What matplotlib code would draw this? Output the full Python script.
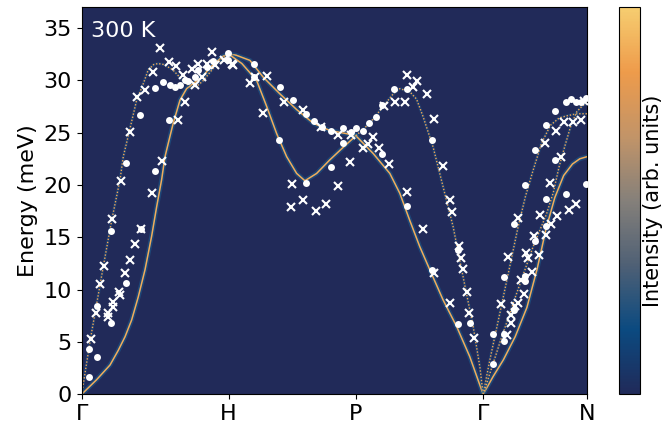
import matplotlib
matplotlib.use("Agg")
import matplotlib.pyplot as plt
import numpy as np
from matplotlib.colors import LinearSegmentedColormap

# high-symmetry path of the bcc zone, distances in units of 2*pi/a
Q_TICKS = [0.0, 1.0, 1.866, 2.732, 3.439]
Q_LABELS = ["Γ", "H", "P", "Γ", "N"]
E_MAX = 37.0

# calculated branches (q, energy in meV)
GH_TA_Q = [0, 0.102, 0.193, 0.249, 0.295, 0.340, 0.385, 0.431, 0.476, 0.510, 0.544,
           0.567, 0.600, 0.623, 0.669, 0.714, 0.760, 0.820, 0.873, 0.920, 0.963, 1.0]
GH_TA_E = [0, 1.4, 2.8, 4.2, 5.5, 7.1, 9.3, 11.9, 15.1, 17.9, 20.5,
           22.7, 24.6, 25.9, 28.1, 29.2, 29.7, 30.3, 31.2, 31.8, 32.3, 32.5]
GH_LA_Q = [0, 0.061, 0.147, 0.204, 0.261, 0.283, 0.324, 0.374, 0.415, 0.453, 0.490,
           0.520, 0.560, 0.620, 0.687, 0.744, 0.780, 0.823, 0.870, 0.914, 0.960, 1.0]
GH_LA_E = [0, 5.4, 12.2, 16.6, 20.5, 22.7, 25.1, 28.1, 29.5, 31.0, 31.5,
           31.6, 31.5, 31.0, 30.0, 29.3, 29.4, 29.9, 30.7, 31.5, 32.1, 32.5]
HP_UP_Q = [1.0, 1.05, 1.145, 1.235, 1.349, 1.463, 1.576, 1.689, 1.803, 1.866]
HP_UP_E = [32.5, 32.4, 31.9, 30.3, 28.7, 27.2, 25.9, 25.2, 24.9, 24.7]
HP_DIP_Q = [1.0, 1.09, 1.190, 1.259, 1.327, 1.395, 1.463, 1.519, 1.599, 1.689, 1.780, 1.866]
HP_DIP_E = [32.5, 31.6, 30.0, 27.5, 24.9, 22.7, 21.1, 20.4, 21.1, 22.4, 23.6, 24.7]
PG_A_Q = [1.866, 1.984, 2.097, 2.165, 2.233, 2.301, 2.369, 2.460, 2.551, 2.641, 2.732]
PG_A_E = [24.7, 23.0, 21.1, 19.2, 16.6, 14.1, 11.9, 9.0, 6.5, 3.6, 0]
PG_B_Q = [1.866, 1.961, 2.052, 2.120, 2.165, 2.233, 2.279, 2.324, 2.392, 2.460, 2.528,
          2.573, 2.619, 2.664, 2.710, 2.732]
PG_B_E = [24.7, 25.9, 27.5, 28.7, 29.2, 28.9, 28.2, 26.5, 23.6, 19.8, 16.0,
          12.8, 9.6, 6.5, 2.6, 0]
GN_1_Q = [2.732, 2.778, 2.845, 2.913, 2.970, 3.020, 3.070, 3.130, 3.190, 3.250, 3.300, 3.370, 3.439]
GN_1_E = [0, 3.3, 7.7, 12.2, 16.0, 18.9, 21.3, 24.0, 25.7, 26.4, 26.6, 26.8, 26.8]
GN_2_Q = [2.732, 2.845, 2.959, 3.072, 3.163, 3.210, 3.250, 3.290, 3.330, 3.370, 3.410, 3.439]
GN_2_E = [0, 4.9, 9.6, 14.1, 17.2, 19.3, 21.8, 23.8, 25.7, 27.0, 27.6, 27.8]
GN_3_Q = [2.732, 2.800, 2.870, 2.950, 3.030, 3.100, 3.160, 3.220, 3.280, 3.340, 3.390, 3.439]
GN_3_E = [0, 1.7, 3.3, 5.5, 8.3, 12.0, 15.8, 18.8, 20.9, 22.0, 22.5, 22.7]

# measured points, two data sets
DOT_Q = [0.052, 0.052, 0.102, 0.102, 0.201, 0.201, 0.299, 0.403, 0.301, 0.397, 0.499, 0.499,
         0.551, 0.596, 0.601, 0.635, 0.669, 0.703, 0.725, 0.771, 0.793, 0.850, 0.895, 0.997,
         0.997, 1.174, 1.174, 1.349, 1.440, 1.344, 1.526, 1.580, 1.637, 1.694, 1.780, 1.830,
         1.866, 1.912, 1.957, 2.002, 2.041, 2.127, 2.215, 1.524, 1.696, 1.780, 2.041, 2.211,
         2.385, 2.385, 2.562, 2.562, 2.641, 2.800, 2.800, 2.873, 2.873, 2.873, 2.943, 2.943,
         3.016, 3.016, 3.016, 3.084, 3.084, 3.157, 3.157, 3.157, 3.224, 3.224, 3.295, 3.295,
         3.329, 3.367, 3.401, 3.431, 3.431]
DOT_E = [1.7, 4.3, 3.6, 8.4, 6.8, 15.6, 10.6, 15.8, 22.1, 26.7, 21.3, 29.3,
         29.8, 26.2, 29.5, 29.4, 29.5, 30.0, 29.9, 30.3, 31.0, 31.3, 31.8, 32.6,
         31.9, 31.6, 30.3, 29.4, 28.1, 24.3, 26.8, 26.1, 25.5, 25.2, 25.4, 25.1,
         25.4, 25.2, 25.9, 26.5, 27.6, 29.2, 29.2, 20.2, 21.7, 24.0, 23.0, 18.0,
         24.3, 11.9, 13.8, 6.7, 6.8, 2.9, 5.8, 5.8, 5.1, 11.2, 8.1, 16.3,
         11.3, 10.8, 20.0, 14.6, 23.3, 18.7, 16.1, 25.7, 27.1, 22.4, 19.1, 27.9,
         28.2, 27.9, 27.9, 20.1, 28.3]
CROSS_Q = [0.061, 0.097, 0.124, 0.154, 0.208, 0.181, 0.181, 0.215, 0.215, 0.254, 0.260,
           0.295, 0.329, 0.363, 0.403, 0.480, 0.265, 0.329, 0.374, 0.431, 0.483, 0.533,
           0.594, 0.642, 0.544, 0.653, 0.703, 0.687, 0.748, 0.771, 0.816, 0.793, 0.850,
           0.907, 0.884, 0.968, 1.020, 1.027, 1.145, 1.179, 1.259, 1.235, 1.376, 1.429,
           1.422, 1.503, 1.503, 1.594, 1.626, 1.660, 1.746, 1.746, 1.825, 1.830, 1.912,
           1.950, 1.984, 2.024, 2.056, 2.093, 2.131, 2.199, 2.211, 2.252, 2.279, 2.347,
           2.211, 2.320, 2.397, 2.456, 2.505, 2.517, 2.399, 2.569, 2.580, 2.596, 2.619,
           2.505, 2.637, 2.671, 2.852, 2.902, 2.970, 2.925, 2.920, 2.895, 2.948, 2.970,
           2.993, 3.010, 3.027, 3.038, 3.065, 3.079, 3.113, 3.118, 3.159, 3.186, 3.197,
           3.152, 3.227, 3.235, 3.261, 3.283, 3.317, 3.344, 3.367, 3.401, 3.420]
CROSS_E = [5.3, 7.8, 10.5, 12.3, 16.7, 7.8, 7.4, 8.8, 8.3, 9.8, 9.5,
           11.6, 12.8, 14.4, 15.8, 19.2, 20.4, 25.1, 28.4, 29.1, 30.8, 33.1,
           31.7, 31.4, 22.3, 26.2, 27.9, 30.5, 31.1, 29.5, 30.3, 31.6, 31.6,
           31.5, 32.7, 31.9, 31.6, 31.5, 29.7, 30.3, 30.4, 26.9, 27.9, 20.1,
           17.9, 27.2, 18.6, 17.5, 25.5, 18.2, 24.8, 19.9, 22.2, 24.8, 23.5,
           23.9, 24.6, 23.5, 27.5, 22.0, 27.9, 27.9, 30.5, 29.4, 29.9, 28.7,
           19.3, 15.8, 26.3, 21.8, 18.6, 17.4, 11.6, 14.2, 13.0, 12.0, 9.8,
           8.7, 7.8, 5.4, 8.6, 13.1, 16.8, 7.6, 6.8, 5.7, 8.4, 8.7,
           10.9, 9.6, 13.5, 13.0, 11.7, 15.1, 13.3, 17.1, 15.2, 20.2, 16.3,
           24.0, 25.2, 17.0, 22.7, 26.0, 17.6, 26.0, 18.2, 26.2, 28.0]

CMAP = LinearSegmentedColormap.from_list(
    "spec", ["#212a59", "#0b4a80", "#4f6075", "#85807a", "#c29468", "#ee9b4b", "#f6cd70"])
BG = CMAP(0.0)

fig = plt.figure(figsize=(6.63, 4.26), dpi=100)
ax = fig.add_axes([0.1232, 0.0744, 0.7622, 0.9092])
cax = fig.add_axes([0.9336, 0.0744, 0.0317, 0.9092])
ax.set_facecolor(BG)

# degenerate branches carry more weight and show as solid bright lines
bright = [(GH_TA_Q, GH_TA_E), (HP_UP_Q, HP_UP_E), (HP_DIP_Q, HP_DIP_E),
          (PG_A_Q, PG_A_E), (GN_3_Q, GN_3_E)]
faint = [(GH_LA_Q, GH_LA_E), (PG_B_Q, PG_B_E), (GN_1_Q, GN_1_E), (GN_2_Q, GN_2_E)]
for q, e in bright:
    ax.plot(q, e, color="#1a6296", lw=3.4, alpha=0.5, solid_capstyle="round")
    ax.plot(q, e, color="#f0ad5c", lw=1.1)
for q, e in faint:
    ax.plot(q, e, color="#1a6296", lw=2.2, alpha=0.3, solid_capstyle="round")
    ax.plot(q, e, color="#f2a857", lw=1.0, ls=(0, (1.0, 1.3)))

ax.plot(CROSS_Q, CROSS_E, "x", color="white", ms=5.5, mew=1.5, zorder=5)
ax.plot(DOT_Q, DOT_E, "o", color="white", ms=5.0, mew=0, zorder=6)

ax.text(0.018, 0.965, "300 K", transform=ax.transAxes, color="white",
        fontsize=16, va="top", ha="left")

ax.set_xlim(Q_TICKS[0], Q_TICKS[-1])
ax.set_ylim(0, E_MAX)
ax.set_xticks(Q_TICKS)
ax.set_xticklabels(Q_LABELS)
ax.set_yticks(range(0, 36, 5))
ax.tick_params(labelsize=16)
ax.set_ylabel("Energy (meV)", fontsize=16)

sm = plt.cm.ScalarMappable(cmap=CMAP)
cb = fig.colorbar(sm, cax=cax)
cb.set_ticks([])
cb.set_label("Intensity (arb. units)", fontsize=15, labelpad=2)

fig.savefig("out.png", dpi=100)
